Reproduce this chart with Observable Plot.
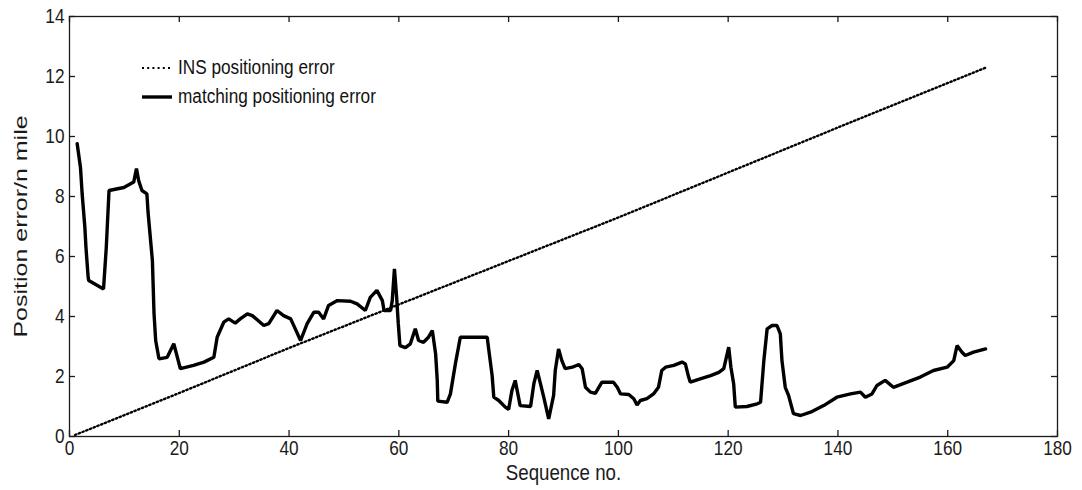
<!DOCTYPE html>
<html><head><meta charset="utf-8">
<script src="https://cdn.jsdelivr.net/npm/d3@7"></script>
<script src="https://cdn.jsdelivr.net/npm/@observablehq/plot@0.6"></script>
<style>
body{margin:0;background:#fff;}
#wrap{position:relative;width:1082px;height:490px;font-family:"Liberation Sans",Arial,sans-serif;}
#legend{position:absolute;left:141px;top:53px;font-size:20px;color:#111;}
.row{display:flex;align-items:center;height:29px;}
.row svg{margin-right:5px;}
.row span{display:inline-block;transform:scaleX(0.86);transform-origin:left center;white-space:nowrap;}
</style></head><body>
<div id="wrap"><div id="chart"></div><div id="legend"></div></div>
<script>
// Matching positioning error (sequence no., error in n mile)
const seq = [1.4,2.0,2.3,2.8,3.0,3.4,3.5,6.2,6.7,7.2,9.9,11.7,12.2,12.6,13.2,14.1,14.3,15.1,15.4,15.7,16.3,17.8,19.0,20.2,
  22.6,24.5,26.3,26.9,28.1,29.0,30.2,31.1,32.4,33.3,35.4,36.3,37.8,39.0,40.3,42.1,43.3,44.5,45.4,46.3,47.2,48.8,51.2,52.4,53.9,54.8,56.0,57.0,57.3,58.5,58.8,59.2,59.6,59.9,60.2,
  61.2,62.1,63.0,63.6,64.5,65.4,66.1,66.7,67.0,67.1,68.8,69.4,70.3,71.2,76.1,76.4,77.0,77.3,78.2,79.4,80.0,80.6,81.2,81.8,82.1,84.0,84.6,85.2,85.8,86.4,87.3,88.2,88.5,89.1,89.7,90.3,91.6,92.8,93.4,94.0,94.9,95.8,97.0,99.1,99.8,
  100.4,101.9,102.8,103.4,104.0,105.2,106.4,107.3,107.9,108.6,110.1,111.6,112.2,112.8,113.1,114.9,116.8,118.3,119.2,120.1,120.5,121.0,121.3,123.4,125.3,125.9,126.5,127.1,128.0,128.9,129.5,129.8,130.4,131.0,131.9,133.2,135.0,137.4,139.8,
  142.3,144.1,145.0,146.2,147.1,148.6,150.1,152.6,155.0,157.4,159.9,161.1,161.7,162.6,163.2,164.7,166.9];
const matchErr = [9.76,8.97,8.1,6.97,6.3,5.3,5.2,4.92,6.3,8.2,8.3,8.48,8.93,8.53,8.2,8.09,7.5,5.87,4.1,3.2,2.59,2.64,3.09,2.26,
  2.37,2.48,2.64,3.31,3.81,3.92,3.78,3.92,4.09,4.03,3.7,3.76,4.2,4.03,3.92,3.2,3.76,4.14,4.14,3.92,4.37,4.53,4.51,4.42,4.2,4.64,4.87,4.53,4.2,4.2,4.53,5.59,4.64,3.76,3.03,
  2.96,3.09,3.59,3.2,3.14,3.31,3.53,2.76,1.87,1.18,1.14,1.42,2.42,3.31,3.31,2.87,2.03,1.31,1.2,0.98,0.9,1.53,1.87,1.31,1.03,1.0,1.76,2.2,1.76,1.31,0.59,1.37,2.2,2.92,2.53,2.26,2.31,2.4,2.26,1.64,1.48,1.44,1.81,1.81,1.64,
  1.42,1.4,1.26,1.05,1.2,1.26,1.42,1.64,2.2,2.31,2.37,2.48,2.42,1.98,1.81,1.92,2.03,2.14,2.26,2.98,2.31,1.76,0.98,1.0,1.09,1.14,2.53,3.59,3.7,3.7,3.42,2.53,1.64,1.37,0.76,0.7,0.81,1.03,1.31,
  1.42,1.48,1.31,1.42,1.7,1.87,1.64,1.81,1.98,2.2,2.31,2.53,3.03,2.81,2.7,2.81,2.92];
// INS positioning error
const insSeq = [1, 20, 40, 60, 80, 100, 120, 140, 167];
const insErr = [0.05, 1.45, 2.95, 4.4, 5.85, 7.3, 8.8, 10.3, 12.3];
// Axes
const xTicks = [0,20,40,60,80,100,120,140,160,180];
const yTicks = [0,2,4,6,8,10,12,14];
const seriesNames = ["INS positioning error", "matching positioning error"];
const xLabel = "Sequence no.";
const yLabel = "Position error/n mile";

const W = 1082, H = 490, mT = 16, mR = 25, mB = 54, mL = 69;
const innerW = W - mL - mR, innerH = H - mT - mB;
const matchData = seq.map((s, i) => ({s, v: matchErr[i]}));
const insData = insSeq.map((s, i) => ({s, v: insErr[i]}));
const font = "Liberation Sans, Arial, sans-serif";
const ink = "#1a1a1a";

const chart = Plot.plot({
  width: W, height: H,
  marginTop: mT, marginRight: mR, marginBottom: mB, marginLeft: mL,
  style: {fontFamily: font, background: "#fff", color: ink, overflow: "visible"},
  x: {domain: [0, 180]},
  y: {domain: [0, 14]},
  marks: [
    Plot.line(insData, {x: "s", y: "v", stroke: "#000", strokeWidth: 2.4, strokeDasharray: "1.4,2.6"}),
    Plot.line(matchData, {x: "s", y: "v", stroke: "#000", strokeWidth: 3.4, strokeLinejoin: "miter"}),
    Plot.frame({stroke: ink, strokeWidth: 1.3}),
    Plot.tickX(xTicks, {x: d => d, insetTop: innerH - 6, stroke: ink, strokeWidth: 1.3}),
    Plot.tickX(xTicks, {x: d => d, insetBottom: innerH - 6, stroke: ink, strokeWidth: 1.3}),
    Plot.tickY(yTicks, {y: d => d, insetRight: innerW - 6, stroke: ink, strokeWidth: 1.3}),
    Plot.tickY(yTicks, {y: d => d, insetLeft: innerW - 6, stroke: ink, strokeWidth: 1.3}),
    Plot.axisX({ticks: xTicks, tickSize: 0, tickPadding: 4, fontSize: 21, label: null, fill: ink}),
    Plot.axisY({ticks: yTicks, tickSize: 0, tickPadding: 5, fontSize: 21, label: null, fill: ink}),
    Plot.text([xLabel], {frameAnchor: "bottom", dy: 43, fontSize: 22, fill: ink}),
    Plot.text([yLabel], {frameAnchor: "left", dx: -48, rotate: -90, textAnchor: "middle", fontSize: 25, fill: ink})
  ]
});
document.getElementById("chart").appendChild(chart);

// Emulate the horizontally condensed lettering of the original figure
function squish(texts, sx, sy) {
  texts.forEach(t => {
    const tr = t.getAttribute("transform") || "";
    const x = +t.getAttribute("x") || 0, y = +t.getAttribute("y") || 0;
    t.setAttribute("transform", `${tr} translate(${x},${y}) scale(${sx},${sy}) translate(${-x},${-y})`);
  });
}
const allText = [...chart.querySelectorAll("text")];
squish(allText.filter(t => t.closest('g[aria-label="x-axis tick label"], g[aria-label="y-axis tick label"]')), 0.82, 1);
squish(allText.filter(t => t.textContent === xLabel), 0.85, 1);
squish(allText.filter(t => t.textContent === yLabel), 1, 0.72);

// Legend
const leg = document.getElementById("legend");
const styles = [{w: 2.2, dash: "2,3.2"}, {w: 3.4, dash: null}];
seriesNames.forEach((name, i) => {
  const row = document.createElement("div");
  row.className = "row";
  row.innerHTML = `<svg width="32" height="10"><line x1="1" y1="5" x2="31" y2="5" stroke="#000" stroke-width="${styles[i].w}" ${styles[i].dash ? `stroke-dasharray="${styles[i].dash}"` : ""}/></svg><span>${name}</span>`;
  leg.appendChild(row);
});
</script>
</body></html>
